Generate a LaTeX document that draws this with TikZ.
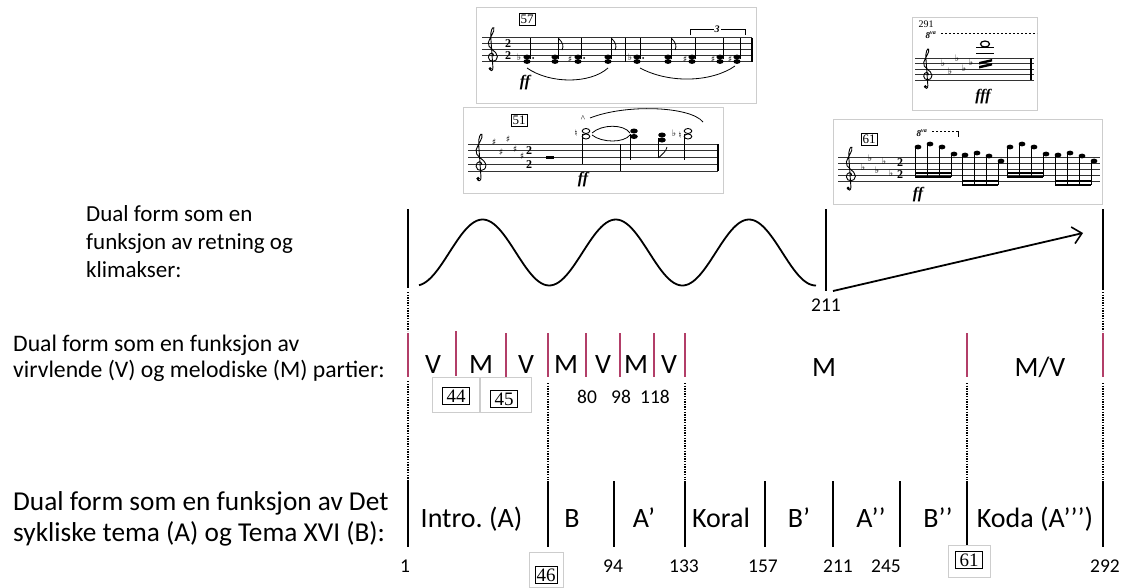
\documentclass[tikz,border=0pt]{standalone}
\usepackage{fontspec}
\setmainfont{Carlito}
\newfontfamily\mus{Liberation Serif}
\newfontfamily\sym{DejaVu Sans}
\usetikzlibrary{arrows.meta}
\definecolor{mag}{RGB}{178,62,104}
\definecolor{frm}{RGB}{205,205,205}
\frenchspacing
\tikzset{
  labA/.style={font=\fontsize{23}{28}\selectfont, align=left, anchor=north west, inner sep=0pt},
  labB/.style={font=\fontsize{23.7}{26}\selectfont, align=left, anchor=north west, inner sep=0pt},
  labC/.style={font=\fontsize{27.3}{31}\selectfont, align=left, anchor=north west, inner sep=0pt},
  seg/.style={font=\fontsize{28}{28}\selectfont, inner sep=0pt, anchor=base},
  num/.style={font=\fontsize{19.5}{19.5}\selectfont, inner sep=0pt, anchor=base},
  bar/.style={line width=1.8pt, black},
  mbar/.style={line width=2pt, mag},
  dots/.style={line width=1.4pt, dash pattern=on 1.3pt off 1.3pt},
  rehear/.style={draw, line width=0.8pt, inner sep=1.6pt, font=\mus\fontsize{13}{13}\selectfont},
  bigrehear/.style={draw, line width=1pt, inner xsep=4pt, inner ysep=2pt, font=\mus\fontsize{19}{19}\selectfont},
  pframe/.style={draw=frm, line width=0.7pt, fill=white},
  staffl/.style={line width=0.7pt, black!80},
  dyn/.style={font=\mus\bfseries\itshape\fontsize{16}{16}\selectfont, inner sep=0pt},
  acc/.style={font=\sym\fontsize{9}{9}\selectfont, inner sep=0pt},
  tsig/.style={font=\mus\bfseries\fontsize{12}{12}\selectfont, inner sep=0pt},
  trebleclef/.pic={
    \draw[line width=0.9pt] (0.3,0.1) .. controls (0.3,-0.6) and (-0.6,-0.5) .. (-0.6,0.3)
      .. controls (-0.6,1.2) and (0.9,1.2) .. (0.9,0.2)
      .. controls (0.9,-0.8) and (-0.9,-1.2) .. (-0.6,-2.2)
      .. controls (-0.3,-3.2) and (0.5,-4) .. (0.3,-4.6)
      .. controls (0.1,-4.9) and (-0.3,-4) .. (-0.2,-3) -- (0.15,2.0)
      .. controls (0.2,2.6) and (-0.3,2.7) .. (-0.4,2.3);
    \fill (-0.3,2.2) circle (0.28);
  }
}
\begin{document}
\begin{tikzpicture}[x=1pt,y=-1pt]
\useasboundingbox (0,0) rectangle (1127,587);

% ---------- music excerpt 57 ----------
\draw[pframe] (476,7) rectangle (756,103);
\foreach \y in {37.5,43.5,49.5,55.5,61.5} \draw[staffl] (482,\y) -- (752,\y);
\pic[scale=6] at (492,55.5) {trebleclef};
\node[tsig] (t57a) at (508,43.5) {2};
\node[tsig] (t57b) at (508,55.5) {2};
\node[rehear] (r57) at (527,19) {57};
\node[dyn] (d57) at (525,83) {ff};
\draw[line width=1pt] (625,37.5) -- (625,61.5);
\draw[line width=1.4pt] (752,37.5) -- (752,61.5);
\foreach \x in {527,555,578,608,637,668,692,720,737}{
  \fill (\x,57) ellipse [x radius=3.6, y radius=2.4];
  \fill (\x,61.5) ellipse [x radius=3.6, y radius=2.4];
  \draw[line width=0.6pt] (\x+3.3,59) -- (\x+3.3,38);
}
\foreach \x in {555,608,668}{\draw[line width=0.8pt] (\x+3.3,38) .. controls (\x+8,43) and (\x+9,46) .. (\x+7,50);}
\foreach \x in {570,685,713,730}{\node[acc] at (\x,59) {♯};}
\foreach \x in {519,630}{\node[acc] at (\x,57) {♭};}
\foreach \x in {533,584,643}{\fill (\x,58) circle (1);}
\draw[line width=0.8pt] (527,68) .. controls (550,84) and (590,84) .. (608,68);
\draw[line width=0.8pt] (640,68) .. controls (670,84) and (712,82) .. (735,66);
\draw[line width=0.6pt] (690,35) -- (690,29) -- (745,29) -- (745,35);
\node[fill=white, inner sep=1pt, font=\mus\bfseries\itshape\fontsize{10}{10}\selectfont] (tri) at (717,29) {3};

% ---------- music excerpt 51 ----------
\draw[pframe] (463,107) rectangle (723,193);
\foreach \y in {144,150.75,157.5,164.25,171} \draw[staffl] (468,\y) -- (718,\y);
\pic[scale=6.5] at (480,164.25) {trebleclef};
\foreach \x/\y in {494/142,501/152,508/139,515/149}{\node[acc] at (\x,\y) {♯};}
\node[acc] at (522,156) {♯};
\node[tsig] (t51a) at (529,150.75) {2};
\node[tsig] (t51b) at (529,164.25) {2};
\node[rehear] (r51) at (519,120) {51};
\fill (546,155.5) rectangle (554,158.5);
\draw[line width=1pt] (620,144) -- (620,171);
\draw[line width=1.4pt] (718,144) -- (718,171);
\draw[line width=0.9pt] (586,131) ellipse [x radius=3.8, y radius=2.5];
\draw[line width=0.9pt] (586,136.5) ellipse [x radius=3.8, y radius=2.5];
\draw[line width=0.6pt] (582.5,134) -- (582.5,164);
\node[acc] at (576,133) {♮};
\node[font=\mus\fontsize{9}{9}\selectfont, inner sep=0pt] at (583,119) {\textasciicircum};
\fill (634,131) ellipse [x radius=3.8, y radius=2.5];
\fill (634,136.5) ellipse [x radius=3.8, y radius=2.5];
\draw[line width=0.6pt] (630.5,134) -- (630.5,160);
\fill (662,135) ellipse [x radius=3.8, y radius=2.5];
\fill (662,140) ellipse [x radius=3.8, y radius=2.5];
\draw[line width=0.6pt] (658.5,138) -- (658.5,158);
\draw[line width=0.8pt] (658.5,158) .. controls (662,154) and (666,152) .. (667,147);
\node[acc] at (674,133) {♭};
\node[acc] at (680,135) {♮};
\draw[line width=0.9pt] (688,131) ellipse [x radius=3.8, y radius=2.5];
\draw[line width=0.9pt] (688,136.5) ellipse [x radius=3.8, y radius=2.5];
\draw[line width=0.6pt] (684.5,134) -- (684.5,160);
\draw[line width=0.8pt] (592,133) .. controls (602,124) and (624,124) .. (630,133);
\draw[line width=0.8pt] (592,135) .. controls (602,143) and (624,143) .. (630,135);
\draw[line width=0.8pt] (590,118) .. controls (625,104) and (690,106) .. (703,122);
\node[dyn] (d51) at (583,180) {ff};

% ---------- music excerpt 291 ----------
\draw[pframe] (912,17) rectangle (1037,110);
\foreach \y in {58,63.5,69,74.5,80} \draw[staffl] (915,\y) -- (1034,\y);
\pic[scale=5.5] at (927,74.5) {trebleclef};
\node[font=\mus\fontsize{10}{10}\selectfont, inner sep=0pt] (n291) at (926,24) {291};
\node[font=\mus\bfseries\itshape\fontsize{9}{9}\selectfont, inner sep=0pt] (o291) at (931,35) {8\textsuperscript{va}};
\draw[line width=0.6pt, dash pattern=on 2pt off 2pt] (941,33) -- (1037,33);
\foreach \x/\y in {943/63,950/71,957/58,964/68,971/62}{\node[acc] at (\x,\y) {♭};}
\draw[line width=1.2pt] (985,44) ellipse [x radius=4.5, y radius=3];
\draw[line width=0.7pt] (976,47.5) -- (994,47.5);
\draw[line width=0.7pt] (976,53) -- (994,53);
\fill (979,62) -- (992,59) -- (992,61.5) -- (979,64.5) -- cycle;
\fill (979,66) -- (992,63) -- (992,65.5) -- (979,68.5) -- cycle;
\draw[line width=1.4pt] (1031,58) -- (1031,80);
\node[dyn] (d291) at (983,97) {fff};

% ---------- music excerpt 61 ----------
\draw[pframe] (833,119) rectangle (1102,204);
\foreach \y in {157,163,169,175,181} \draw[staffl] (838,\y) -- (1100,\y);
\pic[scale=6] at (850,175) {trebleclef};
\node[rehear] (r61m) at (869,139) {61};
\foreach \x/\y in {863/167,870/158,877/170,884/161,891/173}{\node[acc] at (\x,\y) {♭};}
\node[tsig] (t61a) at (900,163) {2};
\node[tsig] (t61b) at (900,175) {2};
\node[font=\mus\bfseries\itshape\fontsize{9}{9}\selectfont, inner sep=0pt] (o61) at (922,133) {8\textsuperscript{va}};
\draw[line width=0.6pt, dash pattern=on 2pt off 2pt] (932,131) -- (958,131);
\draw[line width=0.6pt] (958,131) -- (958,137);
\foreach \g/\a/\b/\c/\d/\bt in {918/147/144/147/154/172, 965/155/153/156/161/180, 1010/147/144/147/154/172, 1058/155/153/156/161/180}{
  \fill (\g,\a) ellipse [x radius=3.4, y radius=2.4];
  \fill (\g+12,\b) ellipse [x radius=3.4, y radius=2.4];
  \fill (\g+24,\c) ellipse [x radius=3.4, y radius=2.4];
  \fill (\g+36,\d) ellipse [x radius=3.4, y radius=2.4];
  \draw[line width=0.6pt] (\g-3,\a) -- (\g-3,\bt+5);
  \draw[line width=0.6pt] (\g+9,\b) -- (\g+9,\bt+5);
  \draw[line width=0.6pt] (\g+21,\c) -- (\g+21,\bt+5);
  \draw[line width=0.6pt] (\g+33,\d) -- (\g+33,\bt+5);
  \fill (\g-3,\bt) rectangle (\g+33,\bt+2.2);
  \fill (\g-3,\bt+3.8) rectangle (\g+33,\bt+6);
}
\node[dyn] (d61) at (918,195) {ff};

% ---------- left labels ----------
\node[labA] (L1) at (86,205) {Dual form som en\\funksjon av retning og\\klimakser:};
\node[labB] (L2) at (13,335) {Dual form som en funksjon av\\virvlende (V) og melodiske (M) partier:};
\node[labC] (L3) at (13,491) {Dual form som en funksjon av Det\\sykliske tema (A) og Tema XVI (B):};

% ---------- top row ----------
\coordinate (ta) at (408,209); \coordinate (tab) at (408,288);
\coordinate (tb) at (826,209); \coordinate (tbb) at (826,291);
\coordinate (tc) at (1103,209); \coordinate (tcb) at (1103,290);
\draw[bar] (ta) -- (tab);
\draw[bar] (tb) -- (tbb);
\draw[bar] (tc) -- (tcb);
\draw[line width=1.8pt] plot[domain=419:816, samples=160, smooth] (\x, {252.5+33*cos(2.7027*(\x-416))});
\coordinate (as) at (833,291);
\coordinate (ae) at (1083,233);
\draw[line width=1.8pt, -{Straight Barb[length=9pt,width=17pt,line width=1.6pt]}] (as) -- (ae);
\node[num] (n211t) at (826,311) {211};

% ---------- dotted top->middle ----------
\coordinate (d1a) at (408,292); \coordinate (d1b) at (408,331);
\coordinate (d2a) at (1103,292); \coordinate (d2b) at (1103,331);
\draw[dots] (d1a) -- (d1b);
\draw[dots] (d2a) -- (d2b);

% ---------- middle row ----------
\foreach \x in {408,506,548,586,620,654,685,967,1103}{\draw[mbar] (\x,333) -- (\x,377);}
\draw[mbar] (456,331) -- (456,376);
\node[seg] (m1) at (433,373) {V};
\node[seg] (m2) at (481,373) {M};
\node[seg] (m3) at (526,373) {V};
\node[seg] (m4) at (566,373) {M};
\node[seg] (m5) at (603,373) {V};
\node[seg] (m6) at (636,373) {M};
\node[seg] (m7) at (669,373) {V};
\node[seg] (m8) at (824,376) {M};
\node[seg] (m9) at (1040,376) {M/V};
\draw[draw=frm, line width=0.6pt, fill=white] (432,377) rectangle (479,412);
\draw[draw=frm, line width=0.6pt, fill=white] (480,377) rectangle (531,412);
\node[bigrehear] (r44) at (456,396) {44};
\node[bigrehear] (r45) at (504,399) {45};
\node[num] (n80) at (587,403) {80};
\node[num] (n98) at (621,403) {98};
\node[num] (n118) at (655,403) {118};

% ---------- dotted middle->bottom ----------
\draw[dots] (408,381) -- (408,480);
\foreach \x in {548,685,967,1103}{\draw[dots] (\x,383) -- (\x,480);}

% ---------- bottom row ----------
\foreach \x in {408,548,614,685,765,833,900,967,1103}{\draw[bar] (\x,481) -- (\x,547);}
\node[seg] (s1) at (471.5,527) {Intro. (A)};
\node[seg] (s2) at (572,527) {B};
\node[seg] (s3) at (644,527) {A’};
\node[seg] (s4) at (721,527) {Koral};
\node[seg] (s5) at (799,527) {B’};
\node[seg] (s6) at (871,527) {A’’};
\node[seg] (s7) at (938,527) {B’’};
\node[seg] (s8) at (1035,527) {Koda (A’’’)};
\node[num] (b1) at (405,572) {1};
\node[num] (b94) at (613,572) {94};
\node[num] (b133) at (684,572) {133};
\node[num] (b157) at (763,572) {157};
\node[num] (b211) at (838,572) {211};
\node[num] (b245) at (886,572) {245};
\node[num] (b292) at (1105,572) {292};
\draw[draw=frm, line width=0.6pt, fill=white] (529,552) rectangle (563,587);
\node[bigrehear, inner xsep=1.5pt] (r46) at (546,575) {46};
\draw[draw=frm, line width=0.6pt, fill=white] (948,545) rectangle (990,577);
\node[bigrehear] (r61) at (969,560) {61};
\end{tikzpicture}
\end{document}
